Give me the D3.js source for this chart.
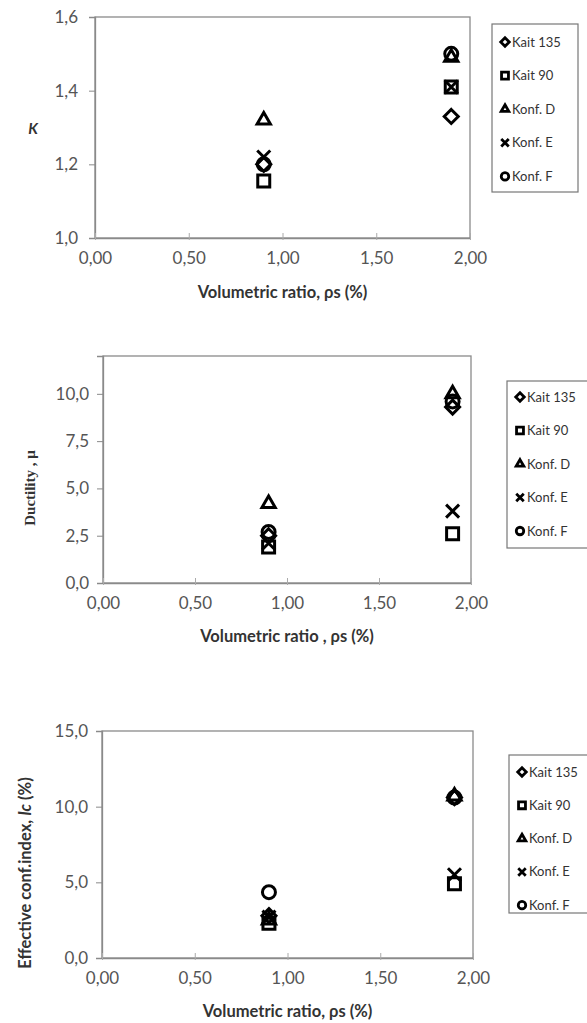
<!DOCTYPE html>
<html><head><meta charset="utf-8">
<script src="https://cdn.jsdelivr.net/npm/d3@7"></script>
<style>body{margin:0;background:#fff}svg{display:block}</style>
</head><body>
<svg id="c" width="587" height="1023"></svg>
<script>
// ---- data ----
const seriesNames = ["Kait 135", "Kait 90", "Konf. D", "Konf. E", "Konf. F"];
const xValues = [0.9, 1.9];
const xTicks = [0, 0.5, 1.0, 1.5, 2.0];

const kKait135 = [1.20, 1.33];
const kKait90  = [1.155, 1.41];
const kKonfD   = [1.32, 1.49];
const kKonfE   = [1.22, 1.41];
const kKonfF   = [1.20, 1.50];
const kTicks = [1.0, 1.2, 1.4, 1.6];

const muKait135 = [2.5, 9.3];
const muKait90  = [1.9, 2.6];
const muKonfD   = [4.2, 10.0];
const muKonfE   = [2.1, 3.8];
const muKonfF   = [2.7, 9.6];
const muTicks = [0, 2.5, 5.0, 7.5, 10.0];

const icKait135 = [2.8, 10.6];
const icKait90  = [2.3, 4.9];
const icKonfD   = [2.5, 10.7];
const icKonfE   = [2.7, 5.5];
const icKonfF   = [4.35, 10.6];
const icTicks = [0, 5.0, 10.0, 15.0];

// ---- drawing ----
const svg = d3.select("#c");
const FONT = "Lato, 'Open Sans', sans-serif";
const comma = (v, d) => v.toFixed(d).replace(".", ",");

function symPath(type, s) {
  if (type === 0) { const h = s / 2 + 0.5; return `M0,${-h}L${h},0L0,${h}L${-h},0Z`; }
  if (type === 1) return d3.symbol(d3.symbolSquare, s * s * 0.85)();
  if (type === 2) return d3.symbol(d3.symbolTriangle, s * s * 0.45)();
  if (type === 3) { const r = s / 2; return `M${-r},${-r}L${r},${r}M${-r},${r}L${r},${-r}`; }
  return d3.symbol(d3.symbolCircle, Math.PI * (s / 2) * (s / 2))();
}

function chart(cfg) {
  const x = d3.scaleLinear().domain([0, 2]).range([cfg.x0, cfg.x1]);
  const y = d3.scaleLinear().domain(cfg.ydom).range([cfg.y0, cfg.y1]);
  const g = svg.append("g");
  g.append("rect").attr("x", cfg.x0).attr("y", cfg.y1)
    .attr("width", cfg.x1 - cfg.x0).attr("height", cfg.y0 - cfg.y1)
    .attr("fill", "none").attr("stroke", "#8a8a8a").attr("stroke-width", 1.3);
  const ya = g.append("g").attr("transform", `translate(${cfg.x0},0)`)
    .call(d3.axisLeft(y).tickValues(cfg.yticks).tickSize(6).tickPadding(cfg.ypad)
      .tickFormat(d => comma(d, 1)));
  ya.select(".domain").attr("stroke", "#8a8a8a").attr("stroke-width", 1.3);
  ya.selectAll(".tick line").attr("stroke", "#8a8a8a");
  ya.selectAll("text").attr("font-family", FONT).attr("font-size", 17).attr("fill", "#555");
  const xa = g.append("g").attr("transform", `translate(0,${cfg.y0})`)
    .call(d3.axisBottom(x).tickValues(xTicks).tickSizeInner(-5).tickSizeOuter(0).tickPadding(14)
      .tickFormat(d => comma(d, 2)));
  xa.select(".domain").attr("stroke", "#8a8a8a").attr("stroke-width", 1.3);
  xa.selectAll(".tick line").attr("stroke", "#aaa").attr("y1", 2);
  xa.selectAll("text").attr("font-family", FONT).attr("font-size", 17).attr("fill", "#555");
  g.append("text").attr("x", (cfg.x0 + cfg.x1) / 2).attr("y", cfg.xtY)
    .attr("text-anchor", "middle").attr("font-family", FONT).attr("font-weight", "bold")
    .attr("font-size", 16.5).attr("fill", "#333").text(cfg.xtitle);
  cfg.ytitle(g);
  cfg.series.forEach((vals, si) => {
    vals.forEach((v, i) => {
      g.append("path").attr("d", symPath(si, 13))
        .attr("transform", `translate(${x(xValues[i])},${y(v)})`)
        .attr("fill", "none").attr("stroke", "#000")
        .attr("stroke-width", 3).attr("stroke-linejoin", "miter");
    });
  });
  const L = cfg.legend;
  g.append("rect").attr("x", L.x).attr("y", L.y).attr("width", L.w).attr("height", L.h)
    .attr("fill", "#fff").attr("stroke", "#777").attr("stroke-width", 1.2);
  seriesNames.forEach((n, si) => {
    const cy = L.y + L.first + si * L.step;
    g.append("path").attr("d", symPath(si, 7.5))
      .attr("transform", `translate(${L.x + 13},${cy})`)
      .attr("fill", "none").attr("stroke", "#000").attr("stroke-width", 2.8);
    g.append("text").attr("x", L.x + 20).attr("y", cy + 4.5)
      .attr("font-family", FONT).attr("font-size", 13).attr("fill", "#333").text(n);
  });
}

chart({
  x0: 95, x1: 470, y0: 238, y1: 17, ydom: [1.0, 1.6], yticks: kTicks, ypad: 11,
  series: [kKait135, kKait90, kKonfD, kKonfE, kKonfF],
  xtitle: "Volumetric ratio, ρs (%)", xtY: 298,
  ytitle: g => g.append("text").attr("x", 33).attr("y", 134).attr("text-anchor", "middle")
    .attr("font-family", FONT).attr("font-style", "italic").attr("font-weight", "bold")
    .attr("font-size", 15).attr("fill", "#333").text("K"),
  legend: { x: 492, y: 24, w: 86, h: 168, first: 18, step: 33.6 }
});

chart({
  x0: 103, x1: 471, y0: 583, y1: 356, ydom: [0, 12], yticks: muTicks, ypad: 8,
  series: [muKait135, muKait90, muKonfD, muKonfE, muKonfF],
  xtitle: "Volumetric ratio , ρs (%)", xtY: 642,
  ytitle: g => g.append("text").attr("transform", "translate(35,488) rotate(-90)")
    .attr("text-anchor", "middle").attr("font-family", "'Liberation Serif', 'DejaVu Serif', serif")
    .attr("font-weight", "bold").attr("font-size", 15).attr("fill", "#333").text("Ductility , μ"),
  legend: { x: 507, y: 381, w: 82, h: 167, first: 16, step: 33.5 }
});

chart({
  x0: 102, x1: 473, y0: 958, y1: 731, ydom: [0, 15], yticks: icTicks, ypad: 8,
  series: [icKait135, icKait90, icKonfD, icKonfE, icKonfF],
  xtitle: "Volumetric ratio, ρs (%)", xtY: 1017,
  ytitle: g => {
    const t = g.append("text").attr("transform", "translate(31,873) rotate(-90)")
      .attr("text-anchor", "middle").attr("font-family", FONT).attr("font-weight", "bold")
      .attr("font-size", 16.5).attr("fill", "#333");
    t.append("tspan").text("Effective conf.index, ");
    t.append("tspan").attr("font-style", "italic").text("Ic");
    t.append("tspan").text(" (%)");
  },
  legend: { x: 509, y: 755, w: 82, h: 158, first: 17, step: 33.3 }
});
</script>
</body></html>
